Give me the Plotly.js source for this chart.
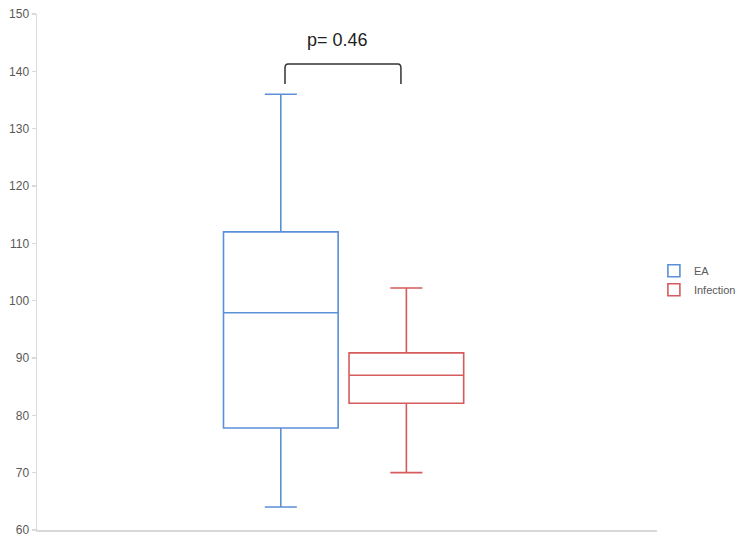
<!DOCTYPE html>
<html><head><meta charset="utf-8">
<script src="https://cdn.plot.ly/plotly-3.0.1.min.js"></script>
<style>html,body{margin:0;padding:0;background:#fff}</style>
</head><body>
<div id="chart" style="width:742px;height:540px"></div>
<script>
const groups = ['EA', 'Infection'];
const colors = ['#5b8fd8', '#d65b5e'];
const lowerWhisker = [64, 70];
const q1Values = [77.8, 82.1];
const medians = [97.9, 87];
const q3Values = [112, 90.9];
const upperWhisker = [136, 102.2];
const pLabel = 'p= 0.46';
const yTicks = [60, 70, 80, 90, 100, 110, 120, 130, 140, 150];

const traces = groups.map((g, i) => ({
  type: 'box',
  name: g,
  x: ['grp'],
  q1: [q1Values[i]],
  median: [medians[i]],
  q3: [q3Values[i]],
  lowerfence: [lowerWhisker[i]],
  upperfence: [upperWhisker[i]],
  line: {color: colors[i], width: 1.6},
  fillcolor: 'rgba(255,255,255,0)',
  whiskerwidth: 0.28,
  boxpoints: false,
  hoverinfo: 'skip'
}));

const layout = {
  width: 742, height: 540,
  margin: {l: 37, r: 85, t: 14, b: 10, autoexpand: false},
  paper_bgcolor: '#fff', plot_bgcolor: '#fff',
  boxmode: 'group', boxgap: 0.595, boxgroupgap: 0.087,
  font: {family: 'Liberation Sans, Arial, sans-serif', color: '#595959', size: 12},
  xaxis: {type: 'category', showticklabels: false, ticks: '', showgrid: false, zeroline: false,
          showline: true, linecolor: '#d9d9d9', linewidth: 1.5, range: [-0.4945, 0.5055]},
  yaxis: {range: [60, 150], tickvals: yTicks, showgrid: false, zeroline: false,
          showline: true, linecolor: '#d9d9d9', linewidth: 1.5,
          ticks: 'outside', ticklen: 4, tickcolor: '#d9d9d9', tickwidth: 1.2,
          tickfont: {size: 12, color: '#595959'}},
  legend: {x: 0.995, y: 0.484, yanchor: 'middle', xanchor: 'left',
           font: {size: 11, color: '#595959'}, tracegroupgap: 6, itemwidth: 30},
  showlegend: true,
  shapes: [{
    type: 'path', xref: 'paper', yref: 'y',
    path: 'M 0.4 137.8 L 0.4 140.6 Q 0.4 141.3 0.405 141.3 L 0.582 141.3 Q 0.587 141.3 0.587 140.6 L 0.587 137.8',
    line: {color: '#333333', width: 1.5}
  }],
  annotations: [{
    xref: 'paper', yref: 'y', x: 0.484, y: 145.5, text: pLabel, showarrow: false,
    font: {size: 18, color: '#222222', family: 'Liberation Sans, Arial, sans-serif'}
  }]
};

Plotly.newPlot('chart', traces, layout, {displayModeBar: false, staticPlot: true});
</script>
</body></html>
